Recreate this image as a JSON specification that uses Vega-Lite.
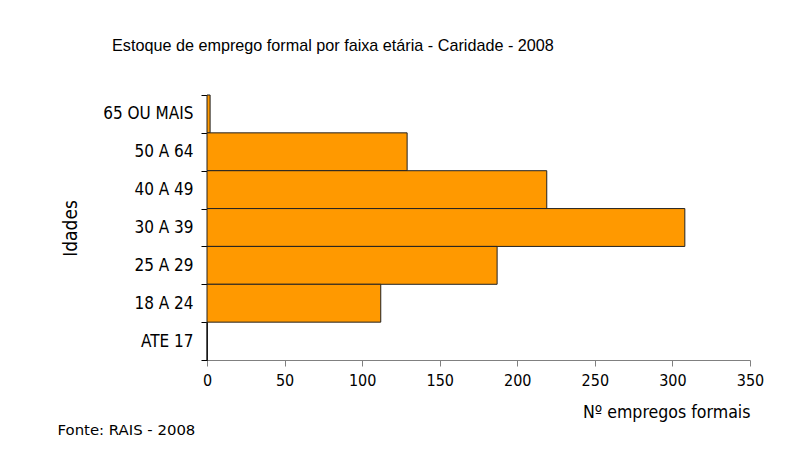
{
  "$schema": "https://vega.github.io/schema/vega-lite/v6.json",
  "autosize": {"type": "none"},
  "width": 543,
  "height": 265,
  "padding": {"left": 207, "top": 95, "right": 39, "bottom": 99},
  "background": "white",
  "title": {
    "text": "Estoque de emprego formal por faixa etária - Caridade - 2008",
    "font": "Liberation Sans",
    "fontSize": 16.2,
    "fontWeight": "normal",
    "color": "#000000",
    "anchor": "start",
    "frame": "group",
    "dx": -95,
    "offset": 32
  },
  "data": {
    "values": [
      {"faixa": "65 OU MAIS", "empregos": 2},
      {"faixa": "50 A 64", "empregos": 129},
      {"faixa": "40 A 49", "empregos": 219},
      {"faixa": "30 A 39", "empregos": 308},
      {"faixa": "25 A 29", "empregos": 187},
      {"faixa": "18 A 24", "empregos": 112},
      {"faixa": "ATE 17", "empregos": 0}
    ]
  },
  "config": {
    "view": {"stroke": null},
    "axis": {
      "labelFont": "DejaVu Sans Condensed, DejaVu Sans",
      "labelFontSize": 16,
      "labelColor": "#000000",
      "titleFont": "DejaVu Sans Condensed, DejaVu Sans",
      "titleFontSize": 17.6,
      "titleFontWeight": "normal",
      "titleColor": "#000000",
      "grid": false
    }
  },
  "layer": [
    {
      "mark": {"type": "bar", "color": "#FF9900", "stroke": "#222222", "strokeWidth": 1},
      "encoding": {
        "y": {
          "field": "faixa",
          "type": "nominal",
          "sort": null,
          "scale": {"paddingInner": 0, "paddingOuter": 0},
          "axis": {
            "title": "Idades",
            "titleFontSize": 19,
            "titleX": -137,
            "titleY": 133,
            "titleAngle": -90,
            "titleAlign": "center",
            "titleBaseline": "middle",
            "tickBand": "extent",
            "tickSize": 6,
            "tickColor": "#000000",
            "domainColor": "#000000",
            "labelFontSize": 17,
            "labelPadding": 8
          }
        },
        "x": {
          "field": "empregos",
          "type": "quantitative",
          "scale": {"domain": [0, 350], "nice": false},
          "axis": {
            "title": "Nº empregos formais",
            "values": [0, 50, 100, 150, 200, 250, 300, 350],
            "titleX": 543,
            "titleY": 52,
            "titleAlign": "right",
            "titleBaseline": "middle",
            "tickSize": 6,
            "tickColor": "#808080",
            "domainColor": "#808080",
            "labelPadding": 6,
            "labelFlush": false
          }
        }
      }
    },
    {
      "mark": {"type": "bar", "opacity": 0},
      "encoding": {
        "x": {
          "field": "empregos",
          "type": "quantitative",
          "axis": {
            "orient": "top",
            "title": "Fonte: RAIS - 2008",
            "titleFont": "DejaVu Sans",
            "titleFontSize": 14.9,
            "titleX": -150,
            "titleY": 335,
            "titleAlign": "left",
            "titleBaseline": "middle",
            "labels": false,
            "ticks": false,
            "domain": false
          }
        }
      }
    }
  ],
  "resolve": {"axis": {"x": "independent"}}
}
